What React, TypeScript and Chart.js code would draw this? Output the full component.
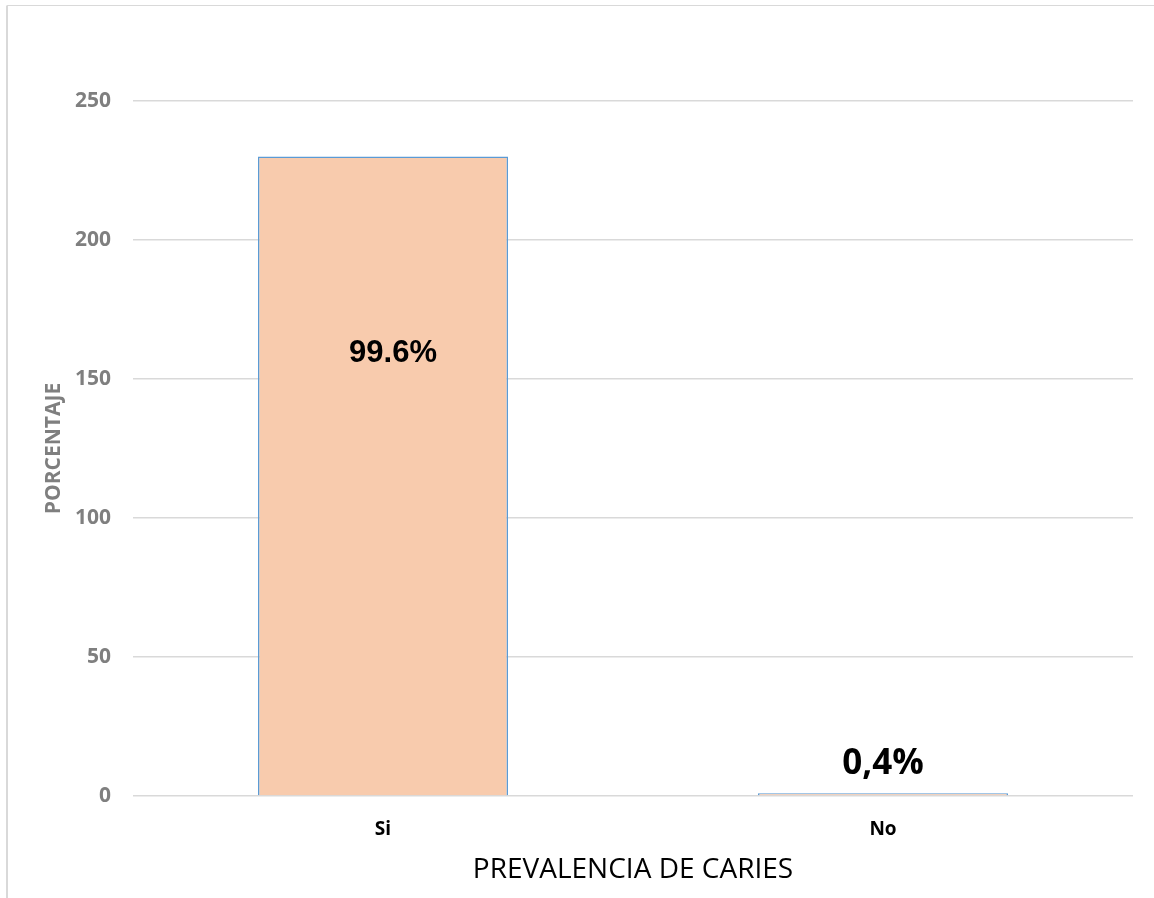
import React, { useEffect, useRef } from "react";
import { Chart, registerables } from "chart.js";

Chart.register(...registerables);

const categories = ["Si", "No"];
const values = [230, 1];
const percentLabels = ["99.6%", "0,4%"];
const labelAnchorValues = [156, 8];
const yTicks = [0, 50, 100, 150, 200, 250];

const frameAndLabels = {
  id: "frameAndLabels",
  beforeDraw(chart: any) {
    const ctx = chart.ctx;
    ctx.save();
    ctx.fillStyle = "#ffffff";
    ctx.fillRect(0, 0, chart.width, chart.height);
    ctx.strokeStyle = "#d9d9d9";
    ctx.lineWidth = 2;
    ctx.beginPath();
    ctx.moveTo(7, 2000);
    ctx.lineTo(7, 5.5);
    ctx.stroke();
    ctx.lineWidth = 1;
    ctx.beginPath();
    ctx.moveTo(7, 5.5);
    ctx.lineTo(2000, 5.5);
    ctx.stroke();
    ctx.restore();
  },
  afterDatasetsDraw(chart: any) {
    const ctx = chart.ctx;
    const meta = chart.getDatasetMeta(0);
    const yScale = chart.scales.y;
    const fonts = ["bold 31px 'Liberation Sans', Arial, sans-serif", "bold 35px 'Open Sans', sans-serif"];
    const dx = [10, 0];
    ctx.save();
    ctx.fillStyle = "#000000";
    ctx.textAlign = "center";
    ctx.textBaseline = "alphabetic";
    meta.data.forEach((bar: any, i: number) => {
      ctx.font = fonts[i];
      ctx.fillText(percentLabels[i], bar.x + dx[i], yScale.getPixelForValue(labelAnchorValues[i]));
    });
    ctx.restore();
  },
};

export default function App() {
  const ref = useRef<HTMLCanvasElement | null>(null);
  useEffect(() => {
    if (!ref.current) return;
    const chart = new Chart(ref.current, {
      type: "bar",
      data: {
        labels: categories,
        datasets: [
          {
            data: values,
            backgroundColor: "#f8cbad",
            borderColor: "#5b9bd5",
            borderWidth: 1.5,
            borderSkipped: "start",
            barPercentage: 0.5,
            categoryPercentage: 1,
          },
        ],
      },
      options: {
        responsive: false,
        animation: false,
        layout: { padding: { top: 101, right: 21, left: 0, bottom: 0 } },
        plugins: { legend: { display: false }, tooltip: { enabled: false } },
        scales: {
          x: {
            grid: { display: false, drawTicks: false },
            border: { display: false },
            ticks: {
              color: "#000000",
              padding: 22,
              font: { family: "'Open Sans', sans-serif", size: 19, weight: "bold" },
            },
            title: {
              display: true,
              text: "PREVALENCIA DE CARIES",
              color: "#000000",
              font: { family: "'Open Sans', sans-serif", size: 28 },
              padding: { top: 0, bottom: 11 },
            },
            afterFit(scale: any) {
              scale.height = 102;
            },
          },
          y: {
            min: 0,
            max: 250,
            afterBuildTicks(scale: any) {
              scale.ticks = yTicks.map((v) => ({ value: v }));
            },
            grid: { color: "#d9d9d9", lineWidth: 1.5, drawTicks: false },
            border: { display: false },
            ticks: {
              color: "#7f7f7f",
              padding: 22,
              font: { family: "'Open Sans', sans-serif", size: 21, weight: "bold" },
            },
            title: {
              display: true,
              text: "PORCENTAJE",
              color: "#7f7f7f",
              font: { family: "'Open Sans', sans-serif", size: 21, weight: "bold" },
              padding: { top: 41, bottom: 0 },
            },
            afterFit(scale: any) {
              scale.width = 133;
            },
          },
        },
      },
      plugins: [frameAndLabels],
    });
    return () => chart.destroy();
  }, []);
  return (
    <canvas
      ref={ref}
      width={1154}
      height={898}
      style={{ position: "absolute", left: 0, top: 0, display: "block" }}
    />
  );
}
